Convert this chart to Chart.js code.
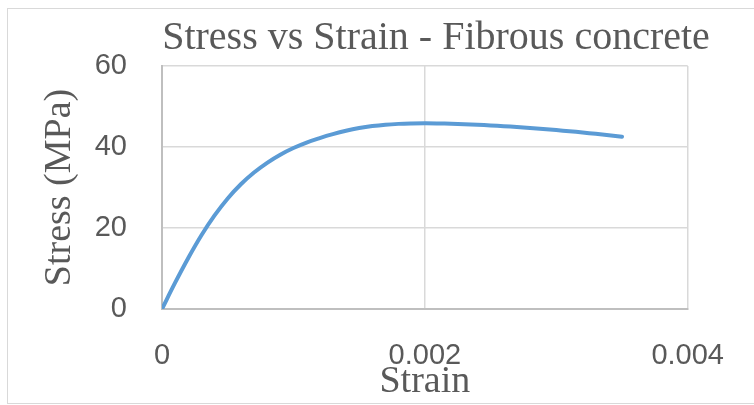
<!DOCTYPE html>
<html>
<head>
<meta charset="utf-8">
<script src="https://cdn.jsdelivr.net/npm/chart.js@4/dist/chart.umd.min.js"></script>
<style>
  html, body { margin: 0; padding: 0; background: #ffffff; }
  #wrap { width: 754px; height: 405px; }
</style>
</head>
<body>
<div id="wrap"><canvas id="c" width="754" height="405"></canvas></div>
<script>
// ---- data ----
const strain = [0, 0.0001, 0.0002, 0.0003, 0.0004, 0.0005, 0.0006, 0.0007, 0.0008, 0.0009,
                0.001, 0.0011, 0.0012, 0.0013, 0.0014, 0.0015, 0.0016, 0.0017, 0.0018, 0.0019,
                0.002, 0.0021, 0.0022, 0.0023, 0.0024, 0.0025, 0.0026, 0.0027, 0.0028, 0.0029,
                0.003, 0.0031, 0.0032, 0.0033, 0.0034, 0.0035];
const stress = [0, 6.5, 12.6, 18.2, 23.1, 27.3, 30.8, 33.7, 36.1, 38.1,
                39.75, 41.1, 42.2, 43.17, 44.0, 44.67, 45.17, 45.51, 45.71, 45.81,
                45.85, 45.82, 45.75, 45.64, 45.5, 45.33, 45.14, 44.93, 44.7, 44.45,
                44.18, 43.89, 43.58, 43.25, 42.9, 42.53];
const xTickValues = [0, 0.002, 0.004];
const xTickLabels = ['0', '0.002', '0.004'];
const yTickValues = [0, 20, 40, 60];
const yTickLabels = ['0', '20', '40', '60'];
const titleText = 'Stress vs Strain - Fibrous concrete';
const xTitle = 'Strain';
const yTitle = 'Stress (MPa)';

const points = strain.map((s, i) => ({ x: s, y: stress[i] }));
const textColor = '#595959';
const serif = '"Liberation Serif", "Times New Roman", serif';
const sans = '"Liberation Sans", Arial, sans-serif';

const frame = {
  id: 'frame',
  afterLayout(chart) {
    // centre the title block where the reference has it
    const t = chart.titleBlock;
    if (t) { t.left = 100; t.right = 772; }
  },
  afterDraw(chart) {
    const ctx = chart.ctx;
    ctx.save();
    ctx.strokeStyle = '#D9D9D9';
    ctx.lineWidth = 1;
    ctx.strokeRect(7.5, 8.5, 800, 395);
    ctx.restore();
  }
};

new Chart(document.getElementById('c'), {
  type: 'scatter',
  data: {
    datasets: [{
      data: points,
      showLine: true,
      borderColor: '#5B9BD5',
      backgroundColor: '#5B9BD5',
      borderWidth: 4,
      pointRadius: 0,
      tension: 0.4,
      borderCapStyle: 'round',
      borderJoinStyle: 'round',
      fill: false
    }]
  },
  options: {
    responsive: false,
    animation: false,
    devicePixelRatio: 1,
    layout: { padding: { left: 0, right: 59, top: 0, bottom: 0 } },
    plugins: {
      legend: { display: false },
      tooltip: { enabled: false },
      title: {
        display: true,
        fullSize: true,
        text: titleText,
        color: textColor,
        font: { family: serif, size: 40, weight: 'normal' },
        padding: { top: 14, bottom: 4 },
        align: 'center'
      }
    },
    scales: {
      x: {
        type: 'linear',
        min: 0,
        max: 0.004,
        afterBuildTicks(scale) { scale.ticks = xTickValues.map(v => ({ value: v })); },
        afterFit(scale) { scale.height = 96; },
        ticks: {
          color: textColor,
          font: { family: sans, size: 29 },
          padding: 30,
          maxRotation: 0,
          callback: (v) => xTickLabels[xTickValues.findIndex(t => Math.abs(t - v) < 1e-9)]
        },
        grid: { color: '#D9D9D9', lineWidth: 1.5, drawTicks: false },
        border: { color: '#BFBFBF', width: 2 },
        title: {
          display: true,
          text: xTitle,
          color: textColor,
          font: { family: serif, size: 38 },
          padding: { top: 0, bottom: 0 }
        }
      },
      y: {
        type: 'linear',
        min: 0,
        max: 60,
        afterBuildTicks(scale) { scale.ticks = yTickValues.map(v => ({ value: v })); },
        afterFit(scale) { scale.width = 162; },
        ticks: {
          color: textColor,
          font: { family: sans, size: 29 },
          padding: 35,
          callback: (v) => yTickLabels[yTickValues.indexOf(v)]
        },
        grid: { color: '#D9D9D9', lineWidth: 1.5, drawTicks: false },
        border: { color: '#BFBFBF', width: 2 },
        title: {
          display: true,
          text: yTitle,
          color: textColor,
          font: { family: serif, size: 38 },
          padding: { top: 37, bottom: 0 }
        }
      }
    }
  },
  plugins: [frame]
});
</script>
</body>
</html>
